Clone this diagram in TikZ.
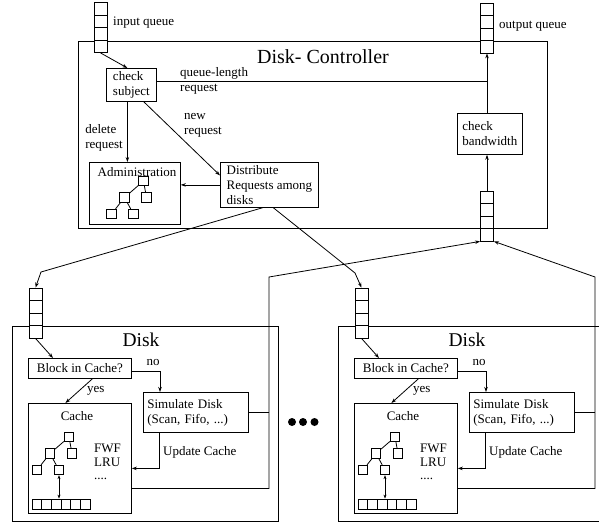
\documentclass[tikz,border=0pt]{standalone}
\usepackage{fontspec}
\setmainfont{Liberation Serif}
\usetikzlibrary{arrows.meta,calc}

\begin{document}
\begin{tikzpicture}[x=1pt,y=-1pt,
  every node/.style={font=\fontsize{13}{15}\selectfont, inner sep=0pt},
  ln/.style={line width=0.8pt},
  arr/.style={line width=0.8pt, -{Stealth[length=5pt,width=3.5pt]}},
  dblarr/.style={line width=0.8pt, {Stealth[length=4pt,width=3pt]}-{Stealth[length=4pt,width=3pt]}},
  box/.style={draw, line width=0.8pt, anchor=north west, align=left},
  bigbox/.style={draw, line width=1pt, anchor=north west},
  qstack/.style={draw, line width=0.8pt, fill=white, minimum width=13pt, minimum height=50pt,
    path picture={\foreach \k in {1,2,3}{\draw[line width=0.8pt]
      ($(path picture bounding box.north west)!\k/4!(path picture bounding box.south west)$) --
      ($(path picture bounding box.north east)!\k/4!(path picture bounding box.south east)$);}}},
  cellrow/.style={draw, line width=0.8pt, fill=white, minimum width=58pt, minimum height=10pt,
    path picture={\foreach \k in {1,...,5}{\draw[line width=0.8pt]
      ($(path picture bounding box.north west)!\k/6!(path picture bounding box.north east)$) --
      ($(path picture bounding box.south west)!\k/6!(path picture bounding box.south east)$);}}},
  sq/.style={draw, line width=0.8pt, fill=white, minimum size=9.5pt},
  pics/ctree/.style={code={
    \node[sq] (-r) at (0,0) {};
    \node[sq] (-a) at (-19,16.5) {};
    \node[sq] (-b) at (3,16.5) {};
    \node[sq] (-c) at (-32,33) {};
    \node[sq] (-d) at (-10,33) {};
    \draw[ln] (-r) -- (-a) (-r) -- (-b) (-a) -- (-c) (-a) -- (-d);
  }}
]
\clip (0,0) rectangle (599,522);

% ---------- disk controller ----------
\node[bigbox, minimum width=469pt, minimum height=187pt] (ctrl) at (78,41) {};
\node[font=\fontsize{20}{22}\selectfont] (ctitle) at (323,57) {Disk- Controller};

\node[qstack] (iq) at (100.5,27.5) {};
\node[anchor=west] (iqlab) at (113,23) {input queue};
\node[qstack] (oq) at (487,28) {};
\node[anchor=west] (oqlab) at (499,26) {output queue};
\node[qstack] (cq) at (487,216) {};

\node[box, minimum width=50pt, minimum height=33pt] (cs) at (106,68) {check\\subject};
\node[box, minimum width=65pt, minimum height=41pt] (cb) at (457,113) {check\\bandwidth};
\node[box, minimum width=91pt, minimum height=62pt] (adm) at (89,162) {};
\node (admlab) at (137,172) {Administration};
\pic (at) at (143.5,181) {ctree};
\node[box, minimum width=98pt, minimum height=45pt] (dist) at (220,162) {Distribute\\Requests among\\disks};

\draw[arr] (iq.south) -- ([xshift=-4pt]cs.north);
\draw[ln] ([yshift=4pt]cs.east) -- ([yshift=4pt]cs.east -| oq.south);
\node[anchor=west, align=left] (qllab) at (180,80.5) {queue-length\\request};
\draw[arr] (cb.north -| oq.south) -- (oq.south);
\draw[arr] (cq.north) -- (cq.north |- cb.south);
\draw[arr] ([xshift=-4pt]cs.south) -- ([xshift=-4pt]cs.south |- adm.north);
\node[anchor=east, align=left] (dellab) at (123,137.5) {delete\\request};
\draw[arr] ([xshift=-13pt]cs.south east) -- ([yshift=9.5pt]dist.west);
\node[anchor=west, align=left] (newlab) at (184,125.5) {new\\request};
\draw[arr] (dist.west) -- (dist.west -| adm.east);

% ---------- disks ----------
\foreach \p/\dx in {L/0,R/326}{
\begin{scope}[xshift=\dx pt, name prefix=\p-]
  \node[bigbox, minimum width=266pt, minimum height=195pt] (box) at (12,326) {};
  \node[font=\fontsize{19.5}{21}\selectfont] (title) at (141,340) {Disk};
  \node[qstack] (q) at (35.5,313) {};
  \node[box, minimum width=103pt, minimum height=20pt] (blk) at (28,358) {Block in Cache?};
  \node[box, text width=97pt, inner xsep=4pt, minimum height=40pt] (sim) at (143,392) {Simulate Disk\\(Scan, Fifo, ...)};
  \node[box, minimum width=103pt, minimum height=110pt] (cache) at (28,403) {};
  \node (cachelab) at (77,416) {Cache};
  \pic (t) at (69,437) {ctree};
  \node[cellrow] (cells) at (61,504) {};
  \draw[dblarr] (t-d.south) -- (t-d.south |- cells.north);
  \node[anchor=north west, align=left, font=\fontsize{13}{13.5}\selectfont] (pol) at (94,444) {FWF\\LRU\\....};
  \coordinate (fb) at (269,277);

  \draw[arr] (q.south) -- ([xshift=25pt]blk.north west);
  \draw[arr] ([yshift=-3pt]blk.east) -| ([xshift=17pt]sim.north west);
  \node (nolab) at (153,362) {no};
  \draw[arr] ([xshift=12.5pt]blk.south) -- ([xshift=-14.5pt]cache.north);
  \node[anchor=west] (yeslab) at (87,391) {yes};
  \draw[arr] ([xshift=16pt]sim.south west) |- ([yshift=-10pt]cache.east);
  \node[anchor=west] (updlab) at (163,452) {Update Cache};
  \draw[ln] (sim.east) -- (sim.east -| fb);
\end{scope}
}

% requests handed out to the disks
\coordinate (bendL) at (41,272);
\coordinate (bendR) at (355,273);
\draw[arr] ([xshift=-7pt]dist.south) -- (bendL) -- (L-q.north);
\draw[arr] ([xshift=4pt]dist.south) -- (bendR) -- (R-q.north);

% answers returned to the controller
\draw[arr] ([yshift=-30pt]L-cache.east) -| (L-fb) -- (cq.south west);
\draw[arr] ([yshift=-30pt]R-cache.east) -| (R-fb) -- (cq.south east);

% further disks
\fill (292,422) circle (4) (303,422) circle (4) (314.5,422) circle (4);
\end{tikzpicture}
\end{document}
